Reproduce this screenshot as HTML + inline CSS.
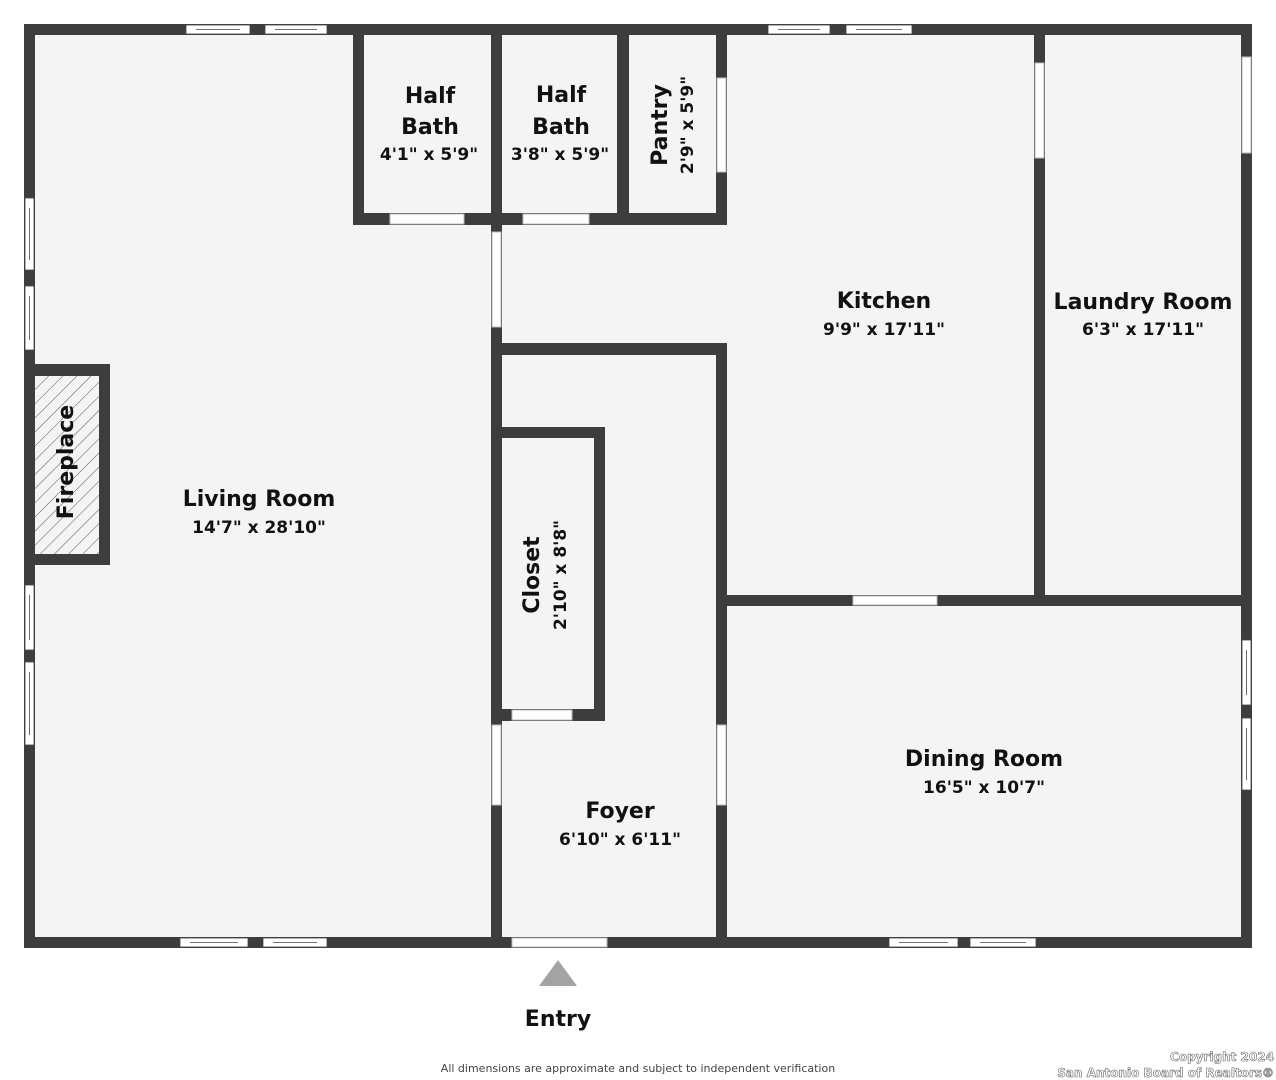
<!DOCTYPE html>
<html><head><meta charset="utf-8"><style>
html,body{margin:0;padding:0;background:#fff;}
svg{display:block;}
text{font-family:"DejaVu Sans","Liberation Sans",sans-serif;fill:#111;}
.n{font-size:22px;font-weight:bold;}
.d{font-size:17px;font-weight:bold;}
</style></head><body>
<svg width="1276" height="1080" viewBox="0 0 1276 1080" xmlns="http://www.w3.org/2000/svg">
<defs>
<pattern id="h" width="10" height="10" patternUnits="userSpaceOnUse" patternTransform="rotate(45)">
<rect width="10" height="10" fill="#f4f4f4"/><line x1="0" y1="0" x2="0" y2="10" stroke="#555" stroke-width="1"/>
</pattern>
</defs>
<rect x="24" y="24" width="1228" height="924" fill="#f4f4f4"/>
<g fill="#3d3d3d">
<!-- outer -->
<rect x="24" y="24" width="1228" height="11"/>
<rect x="24" y="937" width="1228" height="11"/>
<rect x="24" y="24" width="11" height="924"/>
<rect x="1241" y="24" width="11" height="924"/>
<!-- baths/pantry -->
<rect x="353" y="24" width="11" height="201"/>
<rect x="353" y="213" width="374" height="12"/>
<rect x="491" y="24" width="11" height="924"/>
<rect x="617" y="24" width="12" height="201"/>
<rect x="716" y="24" width="11" height="201"/>
<!-- foyer -->
<rect x="491" y="343" width="236" height="12"/>
<rect x="716" y="343" width="11" height="605"/>
<!-- closet -->
<rect x="491" y="427" width="114" height="11"/>
<rect x="594" y="427" width="11" height="294"/>
<rect x="491" y="709" width="114" height="12"/>
<!-- kitchen/laundry -->
<rect x="1034" y="24" width="11" height="581"/>
<rect x="716" y="595" width="536" height="11"/>
<!-- fireplace -->
<rect x="24" y="364" width="86" height="201"/>
</g>
<rect x="35" y="376" width="64" height="178" fill="url(#h)"/>
<!-- openings -->
<g fill="#fff" stroke="#bbb" stroke-width="1">
<rect x="492" y="232" width="9" height="95"/>
<rect x="492" y="725" width="9" height="80"/>
<rect x="717" y="725" width="9" height="80"/>
<rect x="717" y="78" width="9" height="94"/>
<rect x="1035" y="63" width="9" height="95"/>
<rect x="1242" y="57" width="9" height="96"/>
<rect x="390" y="214" width="74" height="10"/>
<rect x="523" y="214" width="66" height="10"/>
<rect x="512" y="710" width="60" height="10"/>
<rect x="853" y="596" width="84" height="9"/>
<rect x="512" y="938" width="95" height="9"/>
</g>
<!-- windows -->
<g fill="#fff" stroke="#444" stroke-width="0.8">
<rect x="186" y="25" width="64" height="9"/><line x1="196" y1="29.5" x2="240" y2="29.5"/>
<rect x="265" y="25" width="62" height="9"/><line x1="275" y1="29.5" x2="317" y2="29.5"/>
<rect x="768" y="25" width="62" height="9"/><line x1="778" y1="29.5" x2="820" y2="29.5"/>
<rect x="846" y="25" width="66" height="9"/><line x1="856" y1="29.5" x2="902" y2="29.5"/>
<rect x="180" y="938" width="68" height="9"/><line x1="190" y1="942.5" x2="238" y2="942.5"/>
<rect x="263" y="938" width="64" height="9"/><line x1="273" y1="942.5" x2="317" y2="942.5"/>
<rect x="889" y="938" width="69" height="9"/><line x1="899" y1="942.5" x2="948" y2="942.5"/>
<rect x="970" y="938" width="66" height="9"/><line x1="980" y1="942.5" x2="1026" y2="942.5"/>
<rect x="25" y="198" width="9" height="72"/><line x1="29.5" y1="208" x2="29.5" y2="260"/>
<rect x="25" y="286" width="9" height="64"/><line x1="29.5" y1="296" x2="29.5" y2="340"/>
<rect x="25" y="585" width="9" height="65"/><line x1="29.5" y1="595" x2="29.5" y2="640"/>
<rect x="25" y="662" width="9" height="83"/><line x1="29.5" y1="672" x2="29.5" y2="735"/>
<rect x="1242" y="640" width="9" height="65"/><line x1="1246.5" y1="650" x2="1246.5" y2="695"/>
<rect x="1242" y="718" width="9" height="72"/><line x1="1246.5" y1="728" x2="1246.5" y2="780"/>
</g>
<!-- labels -->
<text class="n" x="430" y="103" text-anchor="middle">Half</text>
<text class="n" x="430" y="134" text-anchor="middle">Bath</text>
<text class="d" x="429" y="160" text-anchor="middle">4'1" x 5'9"</text>
<text class="n" x="561" y="102" text-anchor="middle">Half</text>
<text class="n" x="561" y="134" text-anchor="middle">Bath</text>
<text class="d" x="560" y="160" text-anchor="middle">3'8" x 5'9"</text>
<g transform="translate(667,125) rotate(-90)"><text class="n" x="0" y="0" text-anchor="middle">Pantry</text><text class="d" x="0" y="26" text-anchor="middle">2'9" x 5'9"</text></g>
<text class="n" x="884" y="308" text-anchor="middle">Kitchen</text>
<text class="d" x="884" y="335" text-anchor="middle">9'9" x 17'11"</text>
<text class="n" x="1143" y="309" text-anchor="middle">Laundry Room</text>
<text class="d" x="1143" y="335" text-anchor="middle">6'3" x 17'11"</text>
<text class="n" x="259" y="506" text-anchor="middle">Living Room</text>
<text class="d" x="259" y="533" text-anchor="middle">14'7" x 28'10"</text>
<g transform="translate(73,462) rotate(-90)"><text class="n" x="0" y="0" text-anchor="middle">Fireplace</text></g>
<g transform="translate(539,575) rotate(-90)"><text class="n" x="0" y="0" text-anchor="middle">Closet</text><text class="d" x="0" y="27" text-anchor="middle">2'10" x 8'8"</text></g>
<text class="n" x="620" y="818" text-anchor="middle">Foyer</text>
<text class="d" x="620" y="845" text-anchor="middle">6'10" x 6'11"</text>
<text class="n" x="984" y="766" text-anchor="middle">Dining Room</text>
<text class="d" x="984" y="793" text-anchor="middle">16'5" x 10'7"</text>
<polygon points="558,960 539,986 577,986" fill="#a3a3a3"/>
<text class="n" x="558" y="1026" text-anchor="middle">Entry</text>
<text x="638" y="1072" text-anchor="middle" style="font-size:11px;fill:#444">All dimensions are approximate and subject to independent verification</text>
<text x="1274" y="1061" text-anchor="end" style="font-size:12px;font-weight:bold;fill:#fff;stroke:#666;stroke-width:0.6">Copyright 2024</text>
<text x="1274" y="1077" text-anchor="end" style="font-size:12px;font-weight:bold;fill:#fff;stroke:#666;stroke-width:0.6">San Antonio Board of Realtors®</text>
</svg>
</body></html>
